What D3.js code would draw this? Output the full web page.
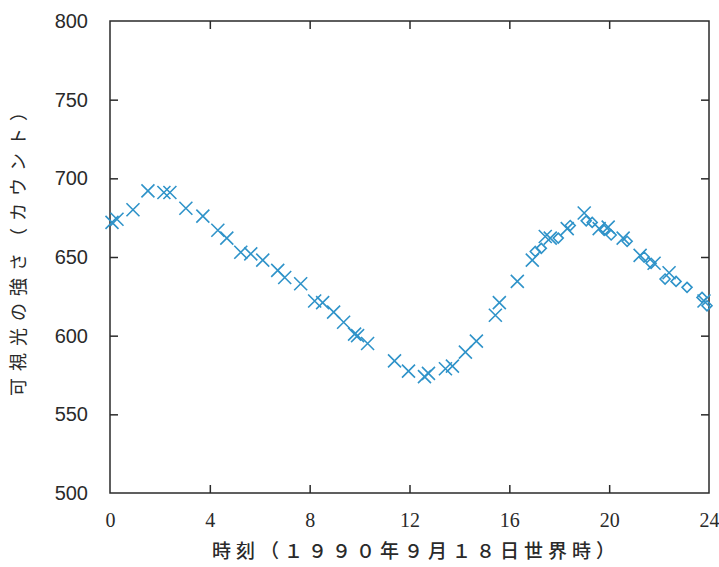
<!DOCTYPE html>
<html>
<head>
<meta charset="utf-8">
<script src="https://cdn.jsdelivr.net/npm/d3@7"></script>
<style>
html,body{margin:0;padding:0;background:#fff;}
</style>
</head>
<body>
<svg id="chart" width="719" height="567"></svg>
<script>
// Data (hours UT, visible-light counts)
const crossTimes = [0.08,0.28,0.92,1.52,2.16,2.4,3.04,3.72,4.32,4.68,5.24,5.64,6.12,6.72,7.0,7.64,8.2,8.52,8.96,9.36,9.8,9.92,10.32,11.4,11.96,12.6,12.76,13.44,13.72,14.24,14.68,15.44,15.6,16.32,16.92,17.44,17.64,18.32,19.0,19.6,19.96,20.56,21.24,21.8,22.4,23.8];
const crossValues = [672,674,680,692,691,691,681,676,667,662,653,652,648,641.5,637,633,622,621,615,608.5,601,600,595,584,577.5,574,576,579,580.6,589.5,596.5,613,621,634.5,648,663,662,668,678,668,669,662,651,646,640,622];
const diamondTimes = [17.04,17.28,17.96,18.44,19.08,19.32,19.8,20.08,20.72,21.4,21.68,22.24,22.68,23.12,23.72,23.92];
const diamondValues = [653.5,655.5,662,670,673,672,667,664,660,650,646,636,634.5,630.7,624.3,619];
const xTicks = [0,4,8,12,16,20,24];
const yTicks = [500,550,600,650,700,750,800];
const xTitle = "時刻（１９９０年９月１８日世界時）";
const yTitle = "可視光の強さ（カウント）";

const svg = d3.select("#chart");
const L = 110, R = 709, T = 21, B = 493;
const x = d3.scaleLinear().domain([0,24]).range([L,R]);
const y = d3.scaleLinear().domain([500,800]).range([B,T]);
const ink = "#2a2a2a";
const blue = "#2f93c9";

// frame
svg.append("rect").attr("x",L).attr("y",T).attr("width",R-L).attr("height",B-T)
  .attr("fill","none").attr("stroke",ink).attr("stroke-width",1.5);

// axes with inward ticks
const tk = 8;
const gB = svg.append("g").attr("transform",`translate(0,${B})`)
  .call(d3.axisBottom(x).tickValues(xTicks).tickSizeInner(-tk).tickSizeOuter(0).tickPadding(tk+12));
const gT = svg.append("g").attr("transform",`translate(0,${T})`)
  .call(d3.axisTop(x).tickValues(xTicks).tickSizeInner(-tk).tickSizeOuter(0).tickFormat(""));
const gL = svg.append("g").attr("transform",`translate(${L},0)`)
  .call(d3.axisLeft(y).tickValues(yTicks).tickSizeInner(-tk).tickSizeOuter(0).tickPadding(tk+14));
const gR = svg.append("g").attr("transform",`translate(${R},0)`)
  .call(d3.axisRight(y).tickValues(yTicks).tickSizeInner(-tk).tickSizeOuter(0).tickFormat(""));
[gB,gT,gL,gR].forEach(g=>{
  g.select(".domain").remove();
  g.selectAll(".tick line").attr("stroke",ink).attr("stroke-width",1.5);
  g.selectAll(".tick").filter(d=>d===0||d===24||d===500||d===800).select("line").remove();
});
gB.selectAll("text").attr("font-family","'Liberation Serif','DejaVu Serif',serif")
  .attr("font-size",20).attr("fill",ink);
gL.selectAll("text").attr("font-family","'Liberation Sans',Arial,sans-serif")
  .attr("font-size",20).attr("fill",ink).attr("dy","0.32em");

// titles
svg.append("text").attr("x",416).attr("y",558)
  .attr("text-anchor","middle")
  .attr("font-family","'Noto Sans CJK JP',sans-serif").attr("font-size",19)
  .attr("font-weight",500)
  .attr("letter-spacing","5px").attr("fill",ink).text(xTitle);
svg.append("text").attr("transform","translate(25,246) rotate(-90)")
  .attr("text-anchor","middle")
  .attr("font-family","'Noto Sans CJK JP',sans-serif").attr("font-size",18)
  .attr("letter-spacing","7px").attr("fill",ink).text(yTitle);

// markers
const crosses = crossTimes.map((t,i)=>({t,v:crossValues[i]}));
const diamonds = diamondTimes.map((t,i)=>({t,v:diamondValues[i]}));
const cs = 6.5;
svg.append("g").selectAll("path").data(crosses).enter().append("path")
  .attr("d",d=>{const cx=x(d.t), cy=y(d.v);
    return `M${cx-cs},${cy-cs}L${cx+cs},${cy+cs}M${cx-cs},${cy+cs}L${cx+cs},${cy-cs}`;})
  .attr("stroke",blue).attr("stroke-width",1.6).attr("fill","none");
const ds = 5;
svg.append("g").selectAll("path").data(diamonds).enter().append("path")
  .attr("d",d=>{const cx=x(d.t), cy=y(d.v);
    return `M${cx},${cy-ds}L${cx+ds},${cy}L${cx},${cy+ds}L${cx-ds},${cy}Z`;})
  .attr("stroke",blue).attr("stroke-width",1.6).attr("fill","none");
</script>
</body>
</html>
